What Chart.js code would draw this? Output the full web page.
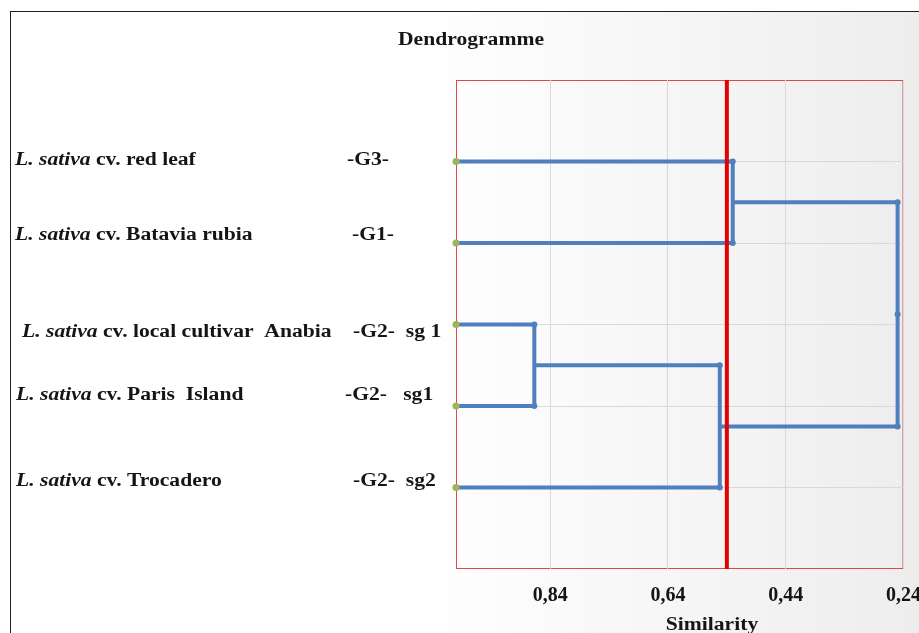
<!DOCTYPE html>
<html>
<head>
<meta charset="utf-8">
<script src="https://cdn.jsdelivr.net/npm/chart.js@4"></script>
<style>
  body { margin: 0; }
  #wrap { position: relative; width: 919px; height: 633px; overflow: hidden; background: #fff; }
  #frame { position: absolute; left: 10px; top: 11px; right: -5px; bottom: -5px;
           border-top: 1px solid #222; border-left: 1px solid #222;
           background: linear-gradient(to right, #ffffff 45%, #ededed); }
  #c { position: absolute; left: 0; top: 0; }
</style>
</head>
<body>
<div id="wrap">
  <div id="frame"></div>
  <canvas id="c" width="936" height="633"></canvas>
</div>
<script>
// Dendrogram data
const leafNames = ['red leaf', 'Batavia rubia', 'local cultivar  Anabia', 'Paris  Island', 'Trocadero'];
const groupLabels = ['-G3-', '-G1-', '-G2-  sg 1', '-G2-   sg1', '-G2-  sg2'];
const leafRows = [1, 2, 3, 4, 5];
const leafSimilarity = 1.0;
// merges: children are leaf indices (0-4) or earlier clusters (5+)
const mergeChildren = [[0, 1], [2, 3], [6, 4], [5, 7]];
const mergeSimilarity = [0.53, 0.867, 0.552, 0.25];
const cutoffSimilarity = 0.54;
const xTicks = [0.84, 0.64, 0.44, 0.24];
const yRows = [1, 2, 3, 4, 5];

const BLUE = '#4f7fbd';
const SERIF = '"Liberation Serif", "Times New Roman", serif';

// node positions (similarity, row) for leaves and clusters
const nodes = leafRows.map(r => ({ x: leafSimilarity, y: r }));
const branchSets = [];
mergeChildren.forEach((pair, i) => {
    const a = nodes[pair[0]], b = nodes[pair[1]];
    const s = mergeSimilarity[i];
    branchSets.push({
        data: [{ x: a.x, y: a.y }, { x: s, y: a.y }, { x: s, y: b.y }, { x: b.x, y: b.y }],
        borderColor: BLUE,
        backgroundColor: BLUE,
        borderWidth: 4,
        pointRadius: [0, 3, 3, 0],
        pointBackgroundColor: BLUE,
        pointBorderWidth: 0,
        showLine: true,
        order: 2
    });
    nodes.push({ x: s, y: (a.y + b.y) / 2 });
});
// dot where the root branch meets its parent link
branchSets[branchSets.length - 1].data.splice(2, 0, { x: mergeSimilarity[3], y: nodes[nodes.length - 1].y });
branchSets[branchSets.length - 1].pointRadius = [0, 3, 3, 3, 0];

const textPlugin = {
    id: 'texts',
    beforeDraw(chart) {
        const { ctx, chartArea: a } = chart;
        ctx.save();
        ctx.strokeStyle = '#e04848';
        ctx.lineWidth = 1;
        ctx.strokeRect(a.left + 0.5, a.top + 0.5, a.right - a.left - 1, a.bottom - a.top - 1);
        ctx.restore();
    },
    afterDraw(chart) {
        const { ctx } = chart;
        const y = chart.scales.y;
        const nudgeY = [3, -3, 12, -6, -2];
        const nameX = [15, 15, 22, 16, 16];
        const groupX = [347, 352, 353, 345, 353];
        const stretched = (text, x, yy, font, align) => {
            ctx.save();
            ctx.font = font;
            ctx.translate(x, yy);
            ctx.scale(1.2, 1);
            ctx.textAlign = align || 'left';
            ctx.fillText(text, 0, 0);
            const w = ctx.measureText(text).width;
            ctx.restore();
            return w * 1.2;
        };
        ctx.save();
        ctx.fillStyle = '#151515';
        ctx.textBaseline = 'alphabetic';
        leafRows.forEach((r, i) => {
            const py = y.getPixelForValue(r) + nudgeY[i];
            const w = stretched('L. sativa', nameX[i], py, 'italic bold 18px ' + SERIF);
            stretched(' cv. ' + leafNames[i], nameX[i] + w, py, 'bold 18px ' + SERIF);
            stretched(groupLabels[i], groupX[i], py, 'bold 18px ' + SERIF);
        });
        stretched('Dendrogramme', 471, 45, 'bold 18px ' + SERIF, 'center');
        stretched('Similarity', 712, 630, 'bold 18px ' + SERIF, 'center');
        ctx.restore();
    }
};

new Chart(document.getElementById('c'), {
    type: 'scatter',
    data: {
        datasets: [
            {
                data: [{ x: cutoffSimilarity, y: 0 }, { x: cutoffSimilarity, y: 6 }],
                borderColor: '#e30000',
                borderWidth: 4,
                pointRadius: 0,
                showLine: true,
                order: 0
            },
            {
                data: leafRows.map(r => ({ x: leafSimilarity, y: r })),
                pointRadius: 3.5,
                pointBackgroundColor: '#9bb65a',
                pointBorderWidth: 0,
                clip: false,
                order: 1
            },
            ...branchSets
        ]
    },
    options: {
        responsive: false,
        animation: false,
        layout: { padding: { left: 456, top: 80, right: 0, bottom: 10 } },
        plugins: {
            legend: { display: false },
            tooltip: { enabled: false }
        },
        scales: {
            x: {
                type: 'linear',
                reverse: true,
                min: 0.24,
                max: 1.0,
                afterBuildTicks: s => { s.ticks = xTicks.map(v => ({ value: v })); },
                grid: { color: '#d9d9d9', drawTicks: false },
                border: { display: false },
                ticks: {
                    padding: 15,
                    color: '#151515',
                    font: { family: SERIF, size: 20, weight: 'bold' },
                    callback: v => v.toFixed(2).replace('.', ',')
                }
            },
            y: {
                type: 'linear',
                reverse: true,
                min: 0,
                max: 6,
                afterBuildTicks: s => { s.ticks = yRows.map(v => ({ value: v })); },
                grid: { color: '#d9d9d9', drawTicks: false },
                border: { display: false },
                ticks: { display: false }
            }
        }
    },
    plugins: [textPlugin]
});
</script>
</body>
</html>
